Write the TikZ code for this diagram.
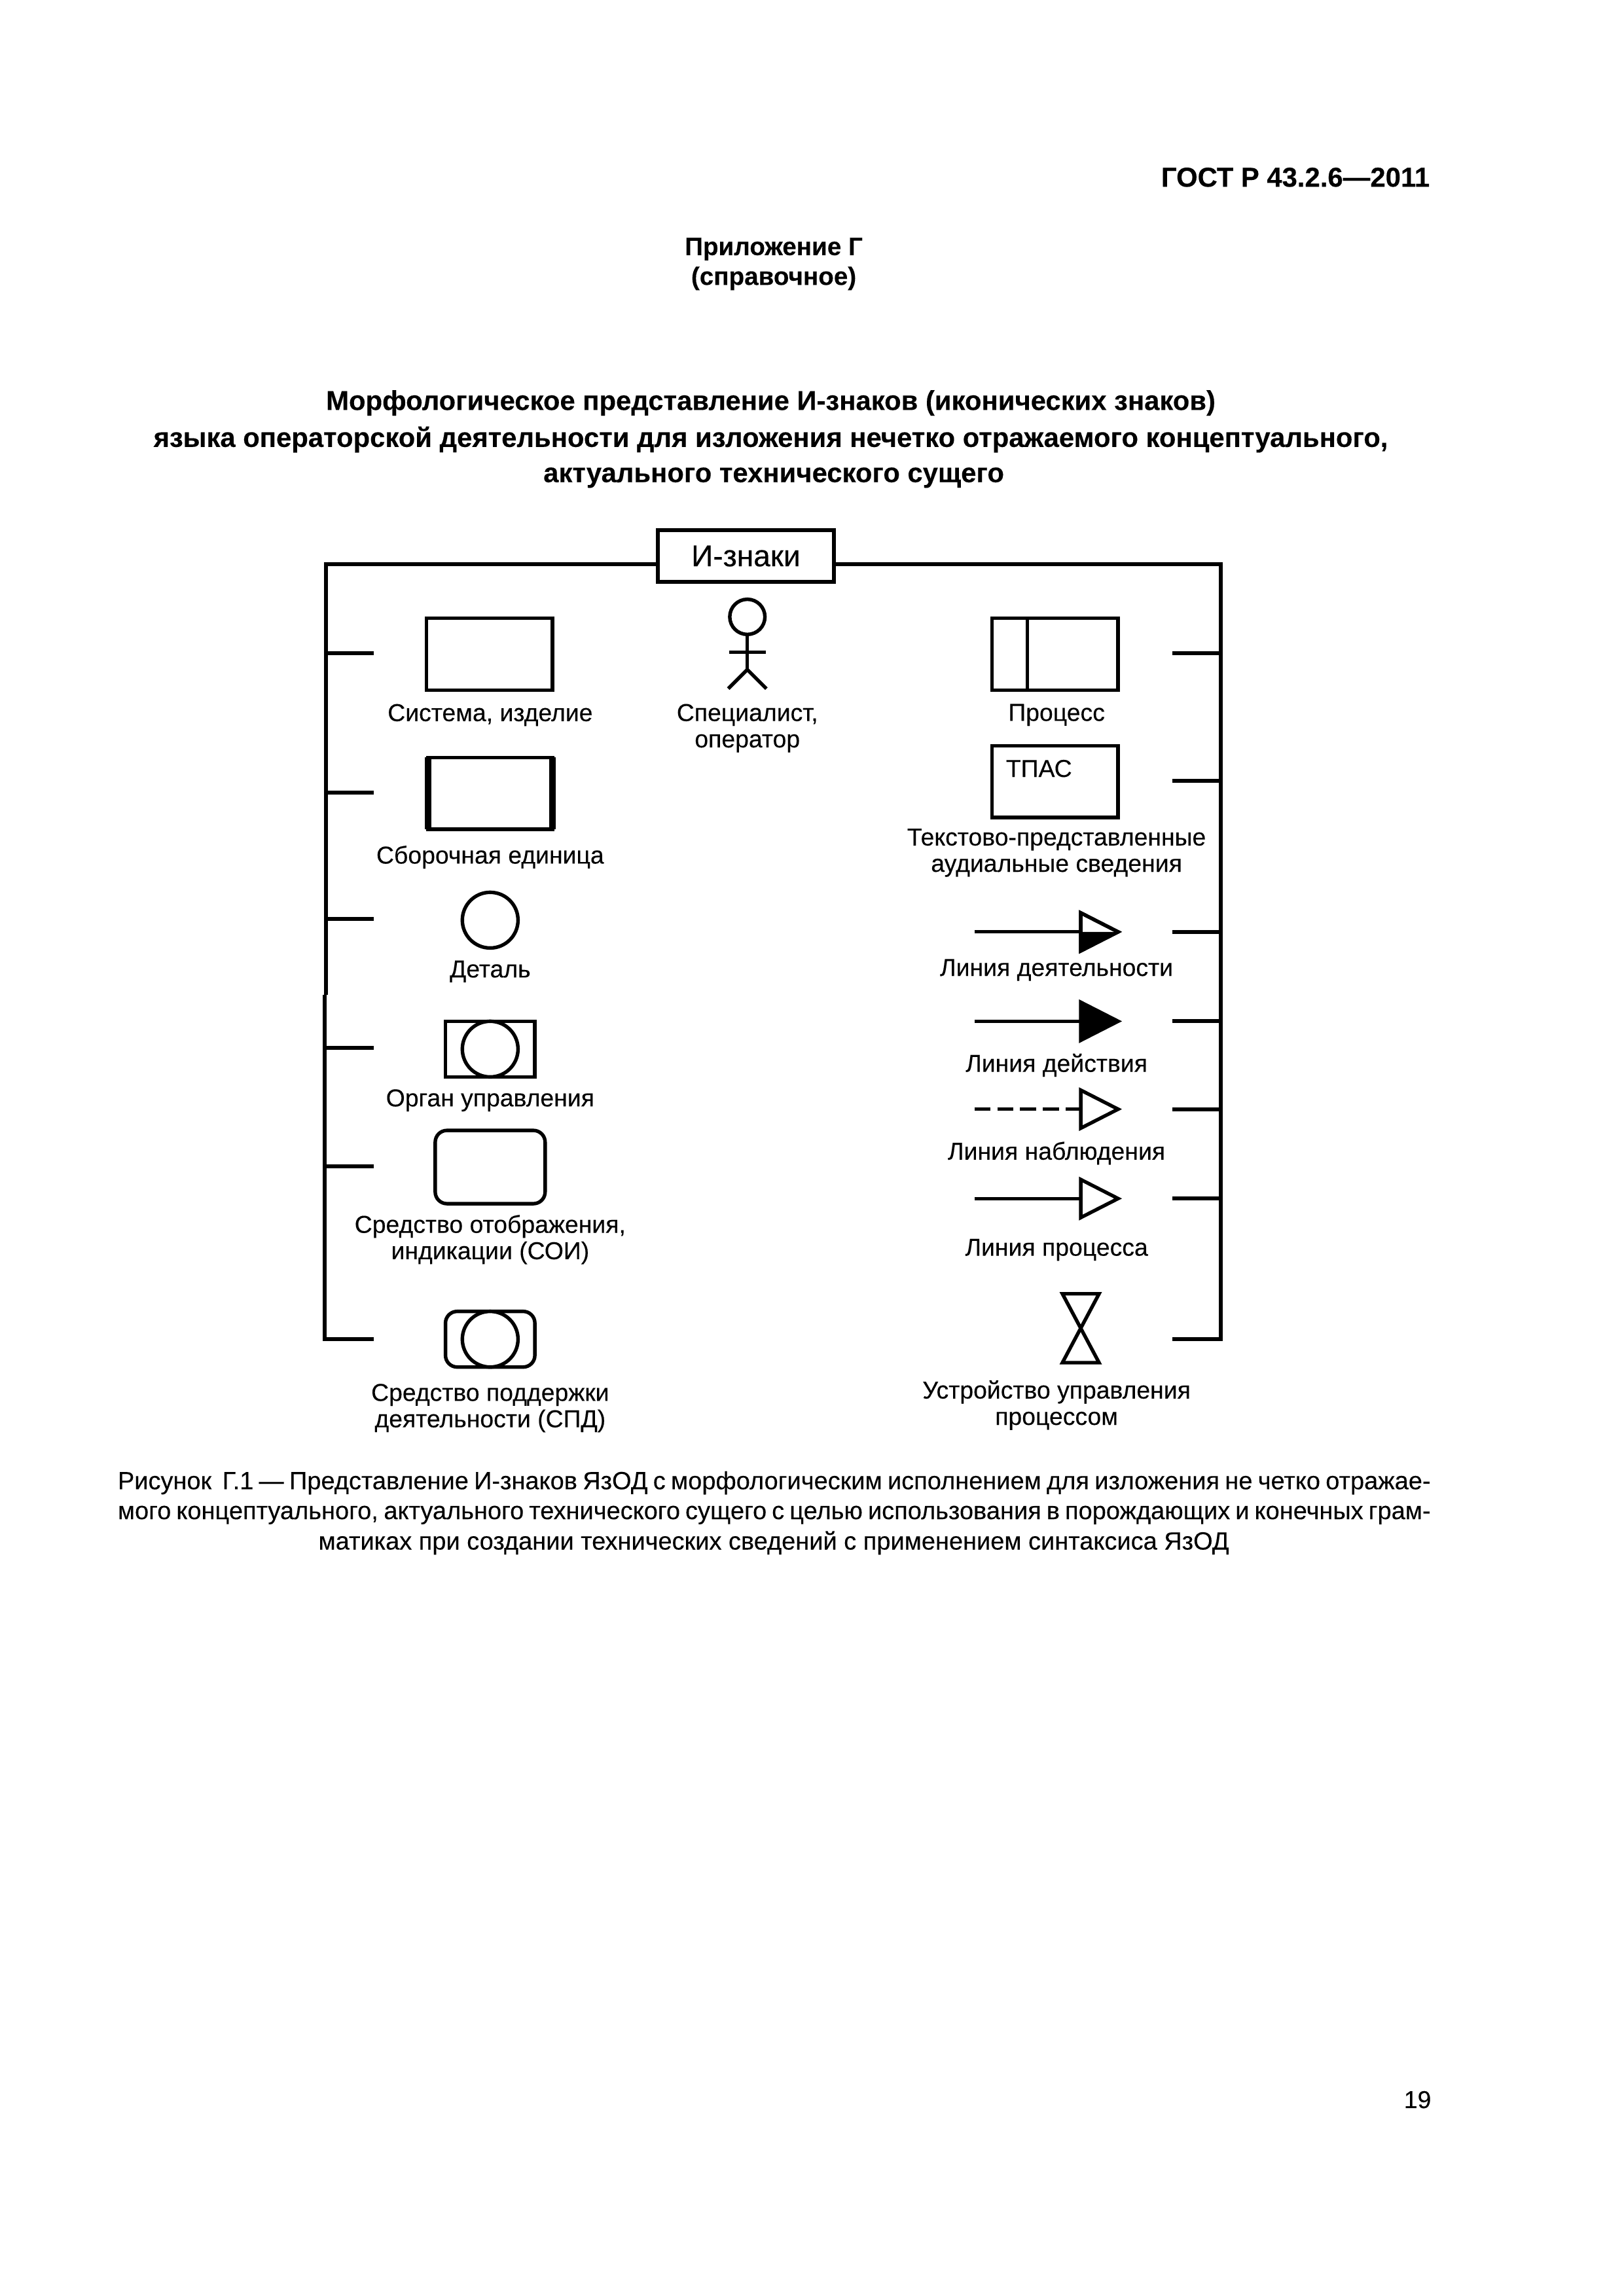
\documentclass[tikz,border=0pt]{standalone}
\usepackage{fontspec}
\setmainfont{Liberation Sans}[RawFeature={embolden=0.2}]
\def\un{0.18953mm}
\tikzset{
  bus/.style={line width=1.45pt},
  sign/.style={draw, line width=1.3pt, inner sep=0pt, outer sep=0pt, fill=white},
  round/.style={sign, circle, minimum size=38*\un},
  lbl/.style={font=\fontsize{9}{9.7}\selectfont, inner sep=0pt, align=center},
  page/.style={font=\fontsize{10.07}{10}\selectfont\bfseries, inner sep=0pt, align=center},
  capline/.style={font=\fontsize{9.15}{10}\selectfont, inner sep=0pt}
}
\begin{document}
\begin{tikzpicture}[x=\un, y=-\un]
\useasboundingbox (0,0) rectangle (1108,1567);
% page head
\node[page, anchor=east] (gost) at (976,121) {ГОСТ Р 43.2.6—2011};
\node[page, font=\fontsize{9.3}{10}\selectfont\bfseries] (app) at (528,170) {Приложение Г};
\node[page, font=\fontsize{9.3}{10}\selectfont\bfseries] (ref) at (528,190) {(справочное)};
\node[page] (t1) at (526,275) {Морфологическое представление И-знаков (иконических знаков)};
\node[page] (t2) at (526,300) {языка операторской деятельности для изложения нечетко отражаемого концептуального,};
\node[page] (t3) at (528,326) {актуального технического сущего};
% root and bus
\node[sign, bus, minimum width=120*\un, minimum height=35*\un, font=\fontsize{11.1}{12}\selectfont] (root) at (509,379.5) {И-знаки};
\coordinate (tl) at (222.4,385);
\coordinate (mlu) at (222.4,679);
\coordinate (mld) at (221.6,679);
\coordinate (bl) at (221.6,914);
\coordinate (blt) at (255,914);
\coordinate (tr) at (833,385);
\coordinate (br) at (833,914);
\coordinate (brt) at (800,914);
\draw[bus] (root.west |- tl) -- (tl) -- (mlu);
\draw[bus] (mld) -- (bl) -- (blt);
\draw[bus] (root.east |- tr) -- (tr) -- (br) -- (brt);
\foreach \y/\n in {446/a,541/b,627/c,715/d,796/e}{
  \coordinate (l\n) at (222,\y);
  \coordinate (lt\n) at (255,\y);
  \draw[bus] (l\n) -- (lt\n);
}
\foreach \y/\n in {446/a,533/b,636/c,697/d,757/e,818/f}{
  \coordinate (r\n) at (833,\y);
  \coordinate (rt\n) at (800,\y);
  \draw[bus] (r\n) -- (rt\n);
}
% left column
\node[sign, minimum width=86*\un, minimum height=49*\un] (sys) at (334,446.5) {};
\node[lbl] (syst) at (334.5,488) {Система, изделие};
\node[sign, minimum width=85*\un, minimum height=49*\un] (unit) at (334.5,541.5) {};
\draw[line width=2.5pt] (unit.north west) -- (unit.south west);
\draw[line width=2.5pt] (unit.north east) -- (unit.south east);
\node[lbl] (unitt) at (334.5,585) {Сборочная единица};
\node[round] (part) at (334.5,628) {};
\node[lbl] (partt) at (334.5,663) {Деталь};
\node[sign, minimum width=61*\un, minimum height=38*\un] (ctrl) at (334.5,716) {};
\node[round] (ctrlc) at (334.5,716) {};
\node[lbl] (ctrlt) at (334.5,751) {Орган управления};
\node[sign, rounded corners=8*\un, minimum width=75*\un, minimum height=50*\un] (disp) at (334.5,796.5) {};
\node[lbl] (dispt) at (334.5,846) {Средство отображения,\\индикации (СОИ)};
\node[sign, rounded corners=8*\un, minimum width=61*\un, minimum height=38*\un] (supp) at (334.5,914) {};
\node[round] (suppc) at (334.5,914) {};
\node[lbl] (suppt) at (334.5,961) {Средство поддержки\\деятельности (СПД)};
% operator
\node[sign, circle, minimum size=24*\un] (head) at (510,421) {};
\coordinate (hip) at (510,457);
\coordinate (armr) at (497.5,445);
\coordinate (arml) at (522.5,445);
\coordinate (legr) at (497,470);
\coordinate (legl) at (523,470);
\draw[line width=1.3pt] (head) -- (hip);
\draw[line width=1.3pt] (armr) -- (arml);
\draw[line width=1.3pt] (legr) -- (hip) -- (legl);
\node[lbl] (opert) at (510,497) {Специалист,\\оператор};
% right column
\node[sign, minimum width=86*\un, minimum height=49*\un] (proc) at (720,446.5) {};
\coordinate (divt) at (701,422);
\coordinate (divb) at (701,471);
\draw[line width=1.3pt] (divt) -- (divb);
\node[lbl] (proct) at (721,488) {Процесс};
\node[sign, minimum width=86*\un, minimum height=49*\un] (tpas) at (720,533.5) {};
\node[lbl] (tpasi) at (709,524.5) {ТПАС};
\node[lbl] (tpast) at (721,582) {Текстово-представленные\\аудиальные сведения};
\foreach \y/\n in {636/act,697/do,818/pr}{
  \coordinate (s\n) at (665,\y);
  \coordinate (b\n) at (737,\y);
  \draw[line width=1.3pt] (s\n) -- (b\n);
}
\coordinate (sob) at (665,757);
\coordinate (bob) at (737,757);
\draw[line width=1.3pt, dash pattern=on 5.9pt off 2.5pt] (sob) -- (bob);
\foreach \y in {636,757,818}
  \draw[line width=1.3pt, fill=white, miter limit=10] (737.5,\y-13) -- (763,\y) -- (737.5,\y+13) -- cycle;
\fill (737.5,636) -- (737.5,649) -- (763,636) -- cycle;
\draw[line width=1.3pt, miter limit=10] (737.5,623) -- (763,636) -- (737.5,649) -- cycle;
\draw[line width=1.3pt, fill=black, miter limit=10] (737.5,684) -- (763,697) -- (737.5,710) -- cycle;
\node[lbl] (actt) at (721,662) {Линия деятельности};
\node[lbl] (dot) at (721,727) {Линия действия};
\node[lbl] (obst) at (721,787) {Линия наблюдения};
\node[lbl] (prt) at (721,853) {Линия процесса};
\draw[line width=1.3pt, line join=miter] (725,883) -- (750,883) -- (725,930) -- (750,930) -- cycle;
\node[lbl] (valvet) at (721,959) {Устройство управления\\процессом};
% caption
\node[capline, anchor=west] (c1) at (80,1012) {\makebox[169.8mm][s]{Рисунок\ \ Г.1 — Представление И-знаков ЯзОД с морфологическим исполнением для изложения не четко отражае-}};
\node[capline, anchor=west] (c2) at (80,1034) {\makebox[169.8mm][s]{мого концептуального, актуального технического сущего с целью использования в порождающих и конечных грам-}};
\node[capline] (c3) at (528,1053) {матиках при создании технических сведений с применением синтаксиса ЯзОД};
\node[lbl, anchor=east] (num) at (977,1433) {19};
\end{tikzpicture}
\end{document}
